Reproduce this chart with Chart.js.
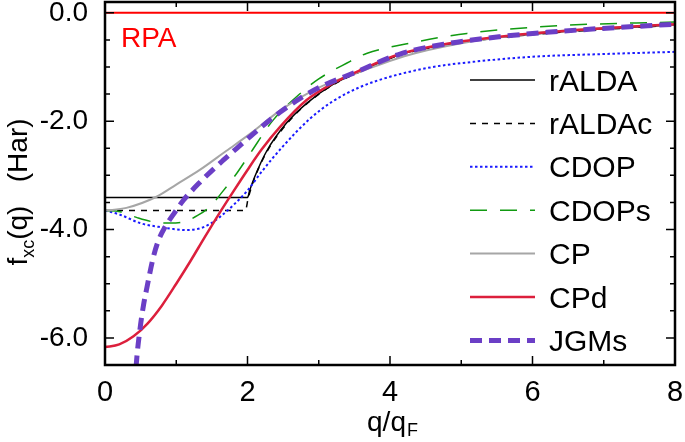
<!DOCTYPE html>
<html>
<head>
<meta charset="utf-8">
<script src="https://cdn.jsdelivr.net/npm/chart.js@4.4.1/dist/chart.umd.min.js"></script>
<style>
  html, body { margin: 0; padding: 0; background: #fff; }
</style>
</head>
<body>
<canvas id="fxc" width="685" height="442"></canvas>
<script>
// values: f_xc(q) in Hartree against q/qF
const rpaX = [0, 8];
const rpaY = [0, 0];

const raldaX = [0, 2.0, 2.03, 2.1, 2.27, 2.55, 2.83, 3.2, 3.58, 4.14, 4.8, 5.54, 6.2, 6.95, 8];
const raldaY = [-3.41, -3.41, -3.28, -3.03, -2.55, -2.03, -1.67, -1.32, -1.08, -0.77, -0.58, -0.45, -0.37, -0.30, -0.22];

const raldacX = [0, 1.97, 2.01, 2.1, 2.27, 2.55, 2.83, 3.2, 3.58, 4.14, 4.8, 5.54, 6.2, 6.95, 8];
const raldacY = [-3.65, -3.65, -3.42, -3.05, -2.57, -2.05, -1.68, -1.33, -1.09, -0.78, -0.59, -0.46, -0.38, -0.31, -0.23];

const cdopX = [0, 0.2, 0.49, 0.75, 0.96, 1.15, 1.33, 1.47, 1.61, 1.8, 2.0, 2.2, 2.5, 2.88, 3.2, 3.58, 4.0, 4.6, 5.2, 6.0, 7.0, 8.0];
const cdopY = [-3.65, -3.72, -3.88, -3.95, -3.99, -4.01, -3.98, -3.90, -3.77, -3.55, -3.28, -2.93, -2.46, -1.95, -1.63, -1.37, -1.18, -1.00, -0.90, -0.81, -0.76, -0.72];

const cdopsX = [0, 0.21, 0.45, 0.68, 0.9, 1.1, 1.3, 1.47, 1.65, 1.85, 2.04, 2.36, 2.74, 3.0, 3.39, 3.67, 4.2, 5.08, 6.48, 8];
const cdopsY = [-3.65, -3.67, -3.78, -3.86, -3.88, -3.86, -3.74, -3.58, -3.30, -2.96, -2.59, -1.98, -1.49, -1.22, -0.93, -0.75, -0.58, -0.38, -0.23, -0.17];

const cpX = [0, 0.3, 0.73, 1.0, 1.33, 1.7, 2.04, 2.46, 3.0, 3.58, 4.2, 5.0, 6.0, 7.0, 8.0];
const cpY = [-3.65, -3.60, -3.39, -3.17, -2.90, -2.55, -2.23, -1.80, -1.38, -1.09, -0.80, -0.56, -0.38, -0.28, -0.21];

const cpdX = [0, 0.2, 0.4, 0.6, 0.8, 1.0, 1.2, 1.4, 1.6, 1.8, 2.0, 2.2, 2.46, 2.83, 3.2, 3.58, 4.14, 4.8, 5.54, 6.2, 6.95, 8];
const cpdY = [-6.17, -6.12, -5.97, -5.73, -5.40, -5.00, -4.58, -4.14, -3.71, -3.30, -2.90, -2.52, -2.10, -1.61, -1.30, -1.06, -0.76, -0.57, -0.44, -0.36, -0.29, -0.21];

const jgmsX = [0.42, 0.44, 0.49, 0.54, 0.59, 0.68, 0.75, 0.84, 0.97, 1.10, 1.33, 1.66, 1.92, 2.2, 2.46, 2.75, 3.02, 3.53, 4.14, 4.8, 5.54, 6.2, 6.95, 8];
const jgmsY = [-6.9, -6.47, -5.85, -5.40, -5.06, -4.50, -4.20, -3.96, -3.70, -3.46, -3.13, -2.72, -2.42, -2.10, -1.83, -1.57, -1.37, -1.09, -0.76, -0.57, -0.44, -0.36, -0.29, -0.21];

const xTicks = [0, 1, 2, 3, 4, 5, 6, 7, 8];
const xLabelled = [0, 2, 4, 6, 8];
const yTicks = [-6.5, -6, -5.5, -5, -4.5, -4, -3.5, -3, -2.5, -2, -1.5, -1, -0.5, 0];
const yLabelled = [-6, -4, -2, 0];

const FONT = '"Liberation Sans", Arial, Helvetica, sans-serif';

function pts(xs, ys) {
    return xs.map((x, i) => ({ x: x, y: ys[i] }));
}

// lower order = drawn on top
const datasets = [
    { label: 'RPA', data: pts(rpaX, rpaY), borderColor: '#ff0000', borderWidth: 2, order: 7, inLegend: false },
    { label: 'rALDA', data: pts(raldaX, raldaY), borderColor: '#000000', borderWidth: 1.5, order: 5 },
    { label: 'rALDAc', data: pts(raldacX, raldacY), borderColor: '#000000', borderWidth: 1.5, borderDash: [6, 6], order: 6 },
    { label: 'CDOP', data: pts(cdopX, cdopY), borderColor: '#1a1aff', borderWidth: 2, borderDash: [2.5, 2.5], order: 4 },
    { label: 'CDOPs', data: pts(cdopsX, cdopsY), borderColor: '#119a11', borderWidth: 1.5, borderDash: [17, 13], order: 3 },
    { label: 'CP', data: pts(cpX, cpY), borderColor: '#a6a6a6', borderWidth: 2, order: 2 },
    { label: 'CPd', data: pts(cpdX, cpdY), borderColor: '#dc1f3c', borderWidth: 2.5, order: 1 },
    { label: 'JGMs', data: pts(jgmsX, jgmsY), borderColor: '#6b3fc6', borderWidth: 5, borderDash: [12, 7], order: 0 }
];
datasets.forEach(d => {
    d.pointRadius = 0;
    d.fill = false;
    d.cubicInterpolationMode = 'monotone';
});

// frame, inward ticks, legend and axis titles
const framePlugin = {
    id: 'frame',
    afterDraw(chart) {
        const ctx = chart.ctx;
        const a = chart.chartArea;
        const xs = chart.scales.x, ys = chart.scales.y;
        ctx.save();
        ctx.strokeStyle = '#000';
        ctx.lineWidth = 1.5;
        ctx.setLineDash([]);
        xTicks.forEach(v => {
            const px = xs.getPixelForValue(v);
            const len = xLabelled.includes(v) ? 9 : 5;
            ctx.beginPath();
            ctx.moveTo(px, a.bottom); ctx.lineTo(px, a.bottom - len);
            ctx.moveTo(px, a.top); ctx.lineTo(px, a.top + len);
            ctx.stroke();
        });
        yTicks.forEach(v => {
            const py = ys.getPixelForValue(v);
            const len = yLabelled.includes(v) ? 9 : 5;
            ctx.beginPath();
            ctx.moveTo(a.left, py); ctx.lineTo(a.left + len, py);
            ctx.moveTo(a.right, py); ctx.lineTo(a.right - len, py);
            ctx.stroke();
        });
        ctx.lineWidth = 2.5;
        ctx.strokeRect(a.left, a.top, a.right - a.left, a.bottom - a.top);

        // RPA label
        ctx.fillStyle = '#ff0000';
        ctx.font = '28px ' + FONT;
        ctx.textBaseline = 'alphabetic';
        ctx.textAlign = 'left';
        ctx.fillText('RPA', 121, 47);

        // legend
        const rows = chart.data.datasets.filter(d => d.inLegend !== false);
        ctx.font = '30px ' + FONT;
        rows.forEach((d, i) => {
            const cy = 80 + i * 43.4;
            ctx.strokeStyle = d.borderColor;
            ctx.lineWidth = d.borderWidth;
            ctx.setLineDash(d.borderDash || []);
            ctx.beginPath();
            ctx.moveTo(470, cy); ctx.lineTo(535, cy);
            ctx.stroke();
            ctx.setLineDash([]);
            ctx.fillStyle = '#000';
            ctx.fillText(d.label, 549, cy + 10.5);
        });

        // x title q/qF
        ctx.fillStyle = '#000';
        const big = '28px ' + FONT, small = '18px ' + FONT;
        ctx.font = big;
        const wq = ctx.measureText('q/q').width;
        ctx.font = small;
        const wf = ctx.measureText('F').width;
        let x0 = 392 - (wq + wf) / 2;
        ctx.font = big;
        ctx.fillText('q/q', x0, 431);
        ctx.font = small;
        ctx.fillText('F', x0 + wq + 1, 436);

        // y title f_xc(q)  (Har)
        ctx.translate(27, 192);
        ctx.rotate(-Math.PI / 2);
        ctx.font = big;
        const w1 = ctx.measureText('f').width;
        const w3 = ctx.measureText('(q)   (Har)').width;
        ctx.font = small;
        const w2 = ctx.measureText('xc').width;
        let t0 = -(w1 + w2 + w3) / 2;
        ctx.font = big;
        ctx.fillText('f', t0, 0);
        ctx.font = small;
        ctx.fillText('xc', t0 + w1, 7);
        ctx.font = big;
        ctx.fillText('(q)   (Har)', t0 + w1 + w2, 0);
        ctx.restore();
    }
};

new Chart(document.getElementById('fxc'), {
    type: 'line',
    data: { datasets: datasets },
    options: {
        responsive: false,
        animation: false,
        devicePixelRatio: 1,
        layout: { padding: { top: 2, right: 10, left: 0, bottom: 0 } },
        plugins: {
            legend: { display: false },
            tooltip: { enabled: false }
        },
        scales: {
            x: {
                type: 'linear',
                min: 0,
                max: 8,
                grid: { display: false, drawTicks: false },
                border: { display: false },
                afterBuildTicks: s => { s.ticks = xTicks.map(v => ({ value: v })); },
                afterFit: s => { s.height = 77; s.paddingLeft = 0; s.paddingRight = 0; },
                ticks: {
                    autoSkip: false,
                    maxRotation: 0,
                    padding: 11,
                    color: '#000',
                    font: { family: FONT, size: 29 },
                    callback: v => xLabelled.includes(v) ? String(v) : ''
                }
            },
            y: {
                type: 'linear',
                min: -6.5,
                max: 0.2,
                grid: { display: false, drawTicks: false },
                border: { display: false },
                afterBuildTicks: s => { s.ticks = yTicks.map(v => ({ value: v })); },
                afterFit: s => { s.width = 105; s.paddingTop = 0; s.paddingBottom = 0; },
                ticks: {
                    autoSkip: false,
                    padding: 17,
                    color: '#000',
                    font: { family: FONT, size: 28 },
                    callback: v => yLabelled.includes(v) ? v.toFixed(1) : ''
                }
            }
        }
    },
    plugins: [framePlugin]
});
</script>
</body>
</html>
